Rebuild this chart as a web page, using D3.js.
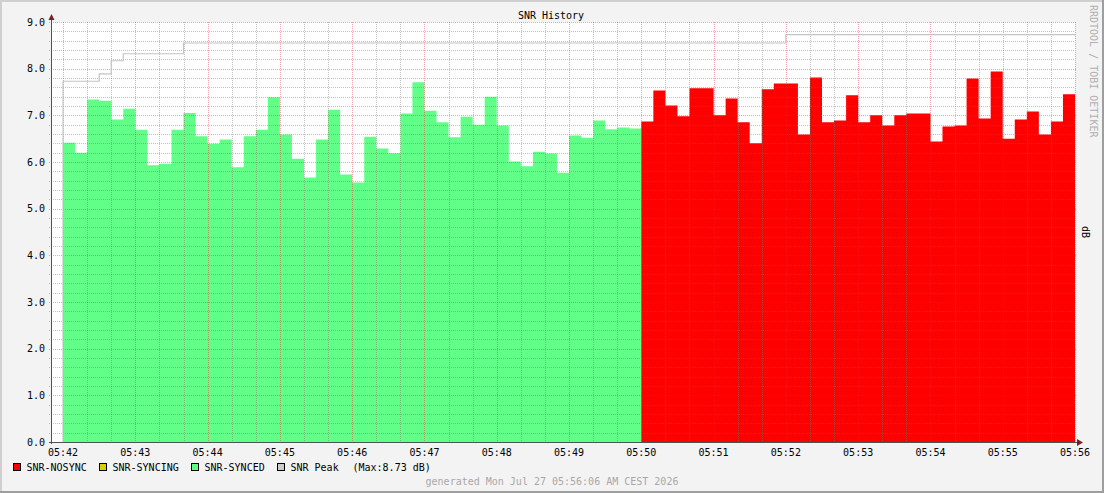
<!DOCTYPE html>
<html><head><meta charset="utf-8">
<script src="https://cdn.jsdelivr.net/npm/d3@7"></script>
<style>
html,body{margin:0;padding:0;background:#f3f3f3;}
svg{display:block;}
text{font-family:"DejaVu Sans Mono",monospace;font-size:10px;}
</style>
</head><body>
<svg id="chart" width="1104" height="493"></svg>
<script>
// ---------- data ----------
const chartTitle = "SNR History";
const unitLabel = "dB";
const watermark = "RRDTOOL / TOBI OETIKER";
const generatedText = "generated Mon Jul 27 05:56:06 AM CEST 2026";
const domainStart = "05:41:50";
const domainEnd = "05:56:00";
const seriesStart = "05:42:00";
const stepSeconds = 10;

const syncedValues = [6.41,6.20,7.34,7.31,6.91,7.14,6.69,5.93,5.96,6.69,7.05,6.55,
  6.39,6.48,5.89,6.55,6.69,7.39,6.59,6.07,5.67,6.48,7.12,5.73,
  5.56,6.54,6.29,6.19,7.04,7.71,7.10,6.85,6.53,6.97,6.80,7.40,
  6.78,6.01,5.91,6.22,6.18,5.77,6.57,6.52,6.89,6.70,6.74,6.72];
const syncingValues = [];
const nosyncValues = [6.87,7.53,7.21,6.98,7.58,7.58,7.00,7.36,6.85,6.40,7.56,7.68,
  7.68,6.59,7.81,6.85,6.89,7.43,6.85,7.00,6.78,7.00,7.04,7.04,
  6.44,6.76,6.78,7.79,6.93,7.94,6.50,6.91,7.08,6.59,6.87,7.45];

const peakTimes = ["05:42:00","05:42:30","05:42:40","05:42:50","05:43:40","05:52:00","05:56:00"];
const peakValues = [7.73,7.89,8.17,8.32,8.55,8.73,8.73];
const peakMax = "8.73";

const xTickLabels = ["05:42","05:43","05:44","05:45","05:46","05:47","05:48","05:49","05:50","05:51","05:52","05:53","05:54","05:55","05:56"];
const yTickLabels = ["0.0","1.0","2.0","3.0","4.0","5.0","6.0","7.0","8.0","9.0"];

const legendNames = ["SNR-NOSYNC","SNR-SYNCING","SNR-SYNCED","SNR Peak"];
const legendColors = ["#ff0000","#d8d000","#62ff88","#cccccc"];

// ---------- layout ----------
const W = 1104, H = 493;
const L = 51, R = 1075, T = 22, B = 442;
const parse = d3.timeParse("%H:%M:%S");
const svg = d3.select("#chart");

const x = d3.scaleTime().domain([parse(domainStart), parse(domainEnd)]).range([L, R]);
const y = d3.scaleLinear().domain([0, 9]).range([B, T]);
const px = v => Math.round(v) + 0.5;

// frame
svg.append("rect").attr("width", W).attr("height", H).attr("fill", "#f3f3f3");
svg.append("rect").attr("x",0).attr("y",0).attr("width",W).attr("height",2).attr("fill","#cfcfcf");
svg.append("rect").attr("x",0).attr("y",0).attr("width",2).attr("height",H).attr("fill","#cfcfcf");
svg.append("rect").attr("x",0).attr("y",H-2).attr("width",W).attr("height",2).attr("fill","#9e9e9e");
svg.append("rect").attr("x",W-2).attr("y",0).attr("width",2).attr("height",H).attr("fill","#9e9e9e");

// canvas
svg.append("rect").attr("x", L).attr("y", T).attr("width", R - L).attr("height", B - T).attr("fill", "#ffffff");

// series
const t0 = parse(seriesStart);
function pts(values, offset) {
  const out = values.map((v, i) => ({t: d3.timeSecond.offset(t0, (offset + i) * stepSeconds), v}));
  if (values.length) out.push({t: d3.timeSecond.offset(t0, (offset + values.length) * stepSeconds), v: values[values.length - 1]});
  return out;
}
const area = d3.area().x(d => x(d.t)).y0(y(0)).y1(d => y(d.v)).curve(d3.curveStepAfter);
svg.append("path").datum(pts(syncedValues, 0)).attr("d", area).attr("fill", legendColors[2]);
svg.append("path").datum(pts(syncingValues, syncedValues.length)).attr("d", area).attr("fill", legendColors[1]);
svg.append("path").datum(pts(nosyncValues, syncedValues.length + syncingValues.length)).attr("d", area).attr("fill", legendColors[0]);

// grid
const g = svg.append("g").attr("shape-rendering", "crispEdges");
const minorX = d3.timeSecond.every(20).range(parse(seriesStart), d3.timeSecond.offset(parse(domainEnd), 1));
const majorX = d3.timeMinute.every(1).range(parse(seriesStart), d3.timeSecond.offset(parse(domainEnd), 1));
const minorColor = "rgba(120,120,120,0.45)";
const majorColor = "rgba(220,40,40,0.42)";
minorX.forEach(t => {
  if (t.getSeconds() === 0) return;
  g.append("line").attr("x1", px(x(t))).attr("x2", px(x(t))).attr("y1", T).attr("y2", B + 2)
    .attr("stroke", minorColor).attr("stroke-dasharray", "1,1");
});
for (let k = 0; k <= 45; k++) {
  const v = k * 0.2;
  if (k % 5 === 0) continue;
  g.append("line").attr("x1", L - 2).attr("x2", R).attr("y1", px(y(v))).attr("y2", px(y(v)))
    .attr("stroke", minorColor).attr("stroke-dasharray", "1,1");
}
majorX.forEach(t => {
  g.append("line").attr("x1", px(x(t))).attr("x2", px(x(t))).attr("y1", T).attr("y2", B + 2)
    .attr("stroke", majorColor).attr("stroke-dasharray", "1,1");
});
yTickLabels.forEach((lab, i) => {
  if (i === 0) return;
  g.append("line").attr("x1", L - 2).attr("x2", R + 2).attr("y1", px(y(+lab))).attr("y2", px(y(+lab)))
    .attr("stroke", majorColor).attr("stroke-dasharray", "1,1");
});

// peak line
const peakPts = peakTimes.map((s, i) => ({t: parse(s), v: peakValues[i]}));
const peakLine = d3.line().x(d => x(d.t)).y(d => y(d.v)).curve(d3.curveStepAfter);
const peakData = [{t: parse(peakTimes[0]), v: 0}].concat(peakPts);
svg.append("path").datum(peakData).attr("d", peakLine).attr("fill", "none")
  .attr("stroke", "#c4c4c4").attr("stroke-width", 1.2);

// axes
const axisColor = "#4a5550";
svg.append("line").attr("x1", L - 2).attr("x2", R + 4).attr("y1", px(B)).attr("y2", px(B))
  .attr("stroke", axisColor).attr("shape-rendering", "crispEdges");
svg.append("line").attr("x1", px(L)).attr("x2", px(L)).attr("y1", B + 2).attr("y2", T - 3)
  .attr("stroke", axisColor).attr("shape-rendering", "crispEdges");
svg.append("path").attr("d", `M${R+2},${B-3} L${R+8},${B+0.5} L${R+2},${B+4} Z`).attr("fill", "#7f1f1f");
svg.append("path").attr("d", `M${L-2.5},${T-2} L${L+0.5},${T-8} L${L+3.5},${T-2} Z`).attr("fill", "#7f1f1f");

// tick labels
xTickLabels.forEach(lab => {
  svg.append("text").attr("x", x(parse(lab + ":00"))).attr("y", 455.5).attr("text-anchor", "middle")
    .attr("fill", "#000").text(lab);
});
yTickLabels.forEach(lab => {
  svg.append("text").attr("x", 45).attr("y", y(+lab) + 3.8).attr("text-anchor", "end")
    .attr("fill", "#000").text(lab);
});

// title
svg.append("text").attr("x", 551).attr("y", 19).attr("text-anchor", "middle").attr("fill", "#000").text(chartTitle);

// vertical texts
svg.append("text").attr("transform", "translate(1081.5,232) rotate(90)").attr("text-anchor", "middle")
  .attr("fill", "#000").text(unitLabel);
svg.append("text").attr("transform", "translate(1089.5,5) rotate(90)").attr("text-anchor", "start")
  .attr("fill", "#b0b0b0").text(watermark);

// legend
const legendX = [13, 99, 191, 277];
legendNames.forEach((name, i) => {
  svg.append("rect").attr("x", legendX[i] + 0.5).attr("y", 463.5).attr("width", 7).attr("height", 7)
    .attr("fill", legendColors[i]).attr("stroke", "#000").attr("stroke-width", 1);
  svg.append("text").attr("x", legendX[i] + 13.5).attr("y", 470.5).attr("fill", "#000").text(name);
});
svg.append("text").attr("x", 352.5).attr("y", 470.5).attr("fill", "#000").text("(Max:" + peakMax + " " + unitLabel + ")");

// generated
svg.append("text").attr("x", 552).attr("y", 484.5).attr("text-anchor", "middle").attr("fill", "#a8a8a8").text(generatedText);
</script>
</body></html>
